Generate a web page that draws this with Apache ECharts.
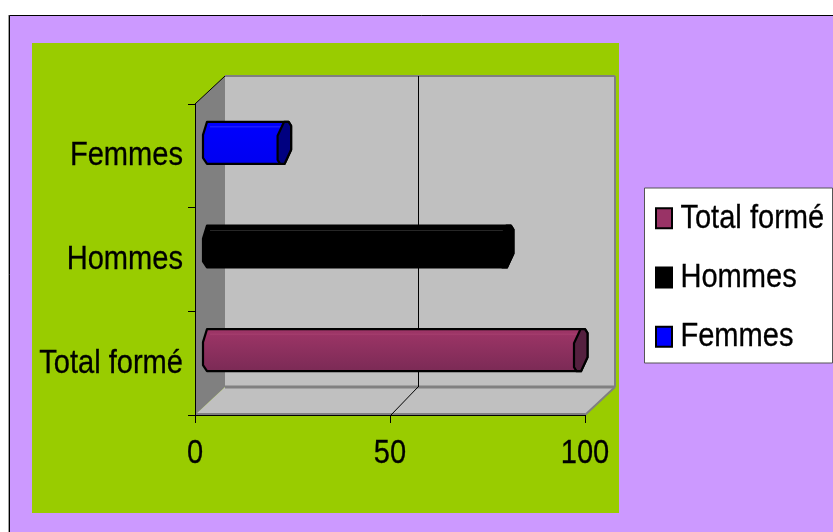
<!DOCTYPE html>
<html>
<head>
<meta charset="utf-8">
<style>html,body{margin:0;padding:0;background:#fff}#chart{width:833px;height:532px}</style>
<script src="https://cdn.jsdelivr.net/npm/echarts@6/dist/echarts.min.js"></script>
</head>
<body>
<div id="chart"></div>
<script>
// Training headcount by group, drawn as an oblique 3D bar chart.
const categories = ['Total formé', 'Hommes', 'Femmes'];
const totalForme = [95];
const hommes = [76];
const femmes = [19];
const xTicks = { min: 0, max: 100, interval: 50 };

const FONT = '"Liberation Sans", Arial, sans-serif';
const TEXT_WIDTH_RATIO = 0.855;            // horizontal squeeze applied to every label
const LABEL_TOP_PADDING = [2, 4, 8];       // per-category downward nudge of the y labels
const DEPTH_X = 30, DEPTH_Y = 28;          // oblique offset of the back wall
const LINE = '#808080';

function line(x1, y1, x2, y2, stroke, lineWidth) {
  return { type: 'line', shape: { x1, y1, x2, y2 }, style: { stroke, lineWidth }, silent: true };
}
function poly(points, fill, stroke, lineWidth) {
  return { type: 'polygon', shape: { points }, style: { fill, stroke, lineWidth, lineJoin: 'round' }, silent: true };
}

// Walls, floor and the mid gridline of the box behind the bars.
function renderBox(params, api) {
  const c = params.coordSys;
  const l = c.x, r = c.x + c.width, t = c.y, b = c.y + c.height;
  const bl = l + DEPTH_X, br = r + DEPTH_X, bt = t - DEPTH_Y, bb = b - DEPTH_Y;
  const mid = api.coord([xTicks.interval, 0])[0];
  return { type: 'group', children: [
    poly([[bl, bt], [br, bt], [br, bb], [bl, bb]], '#c0c0c0'),
    poly([[l, t], [bl, bt], [bl, bb], [l, b]], '#808080'),
    poly([[l, b], [r, b], [br, bb], [bl, bb]], '#c0c0c0'),
    line(bl, bt, br, bt, LINE, 2),
    line(br, bt, br, bb, LINE, 2),
    line(bl, bb, br, bb, LINE, 3),
    line(r, b, br, bb, LINE, 2),
    line(l, b - 1, r, b - 1, LINE, 2),
    line(l, t, bl, bt, '#000', 1),
    line(mid + 28.5, bt, mid + 28.5, bb, '#000', 1),
    line(mid + 1, b, mid + 28, bb, '#000', 1)
  ] };
}

// One bar: a long faceted prism whose end cap sits at the value.
function barRenderer(top, bottom, cap, glint) {
  return function (params, api) {
    const cat = api.value(1);
    const y = api.coord([0, cat])[1] - DEPTH_Y / 2 + 1;
    const x0 = api.coord([0, cat])[0] + DEPTH_X / 2;
    const x1 = api.coord([api.value(0), cat])[0] + DEPTH_X / 2;
    const R = 21;
    const body = [
      [x0 - 3, y - R], [x1 + 4.5, y - R], [x1 + 7, y - 17], [x1 + 7, y + 7], [x1 + 0.5, y + R],
      [x0 - 3, y + R], [x0 - 7, y + 15], [x0 - 7, y - 8]
    ];
    const capPts = [
      [x1, y - R], [x1 + 4.5, y - R], [x1 + 7, y - 17], [x1 + 7, y + 7],
      [x1 + 0.5, y + R], [x1 - 4, y + R], [x1 - 6.5, y + 17], [x1 - 6.5, y - 7]
    ];
    const fill = new echarts.graphic.LinearGradient(0, 0, 0, 1, [
      { offset: 0, color: top }, { offset: 1, color: bottom }
    ]);
    return { type: 'group', children: [
      poly(body, fill, '#000', 2.2),
      line(x0, y - 16, x1 - 2, y - 16, glint, 1),
      poly(capPts, cap, '#000', 2.2)
    ] };
  };
}

function barSeries(name, values, catIndex, color, top, bottom, cap, glint) {
  return {
    type: 'custom', name, z: 4, silent: true,
    itemStyle: { color },
    encode: { x: 0, y: 1 },
    data: values.map(v => [v, catIndex]),
    renderItem: barRenderer(top, bottom, cap, glint)
  };
}

const labelWeight = { textBorderColor: '#000', textBorderWidth: 0.3 };

const chart = echarts.init(document.getElementById('chart'), null, { renderer: 'canvas' });
chart.setOption({
  animation: false,
  backgroundColor: '#ffffff',
  grid: { left: 195, right: 248, top: 104, bottom: 117, containLabel: false },
  xAxis: {
    type: 'value', min: xTicks.min, max: xTicks.max, interval: xTicks.interval, z: 2,
    axisLine: { show: true, onZero: false, lineStyle: { color: '#000', width: 1 } },
    axisTick: { show: true, length: 8, lineStyle: { color: '#000' } },
    axisLabel: { color: '#000', fontFamily: FONT, fontSize: 34, margin: 22, ...labelWeight },
    splitLine: { show: false }
  },
  yAxis: {
    type: 'category', z: 2,
    data: categories.map((value, i) => ({ value, textStyle: { padding: [LABEL_TOP_PADDING[i], 0, 0, 0] } })),
    axisLine: { show: true, lineStyle: { color: '#000', width: 1 } },
    axisTick: { show: true, length: 7, lineStyle: { color: '#000' } },
    axisLabel: { color: '#000', fontFamily: FONT, fontSize: 34, margin: 12, ...labelWeight },
    splitLine: { show: false }
  },
  legend: {
    data: categories, orient: 'vertical', left: 655, top: 201, padding: 0,
    icon: 'rect', itemWidth: 16, itemHeight: 20, itemGap: 25, selectedMode: false, z: 6,
    itemStyle: { borderColor: '#000', borderWidth: 2 },
    textStyle: { color: '#000', fontFamily: FONT, fontSize: 34, padding: [0, 0, 0, 4], ...labelWeight }
  },
  graphic: { elements: [
    { type: 'rect', z: -20, silent: true, shape: { x: 8, y: 15, width: 825, height: 517 }, style: { fill: '#a0a0a0' } },
    { type: 'rect', z: -19, silent: true, shape: { x: 9.5, y: 15.5, width: 830, height: 530 }, style: { fill: '#cc99ff', stroke: '#000', lineWidth: 1 } },
    { type: 'rect', z: -18, silent: true, shape: { x: 32, y: 43, width: 587, height: 470 }, style: { fill: '#99cc00' } },
    { type: 'rect', z: 5, silent: true, shape: { x: 644.5, y: 188, width: 188, height: 175 }, style: { fill: '#fff', stroke: '#555', lineWidth: 1 } }
  ] },
  series: [
    { type: 'custom', name: 'box', z: 0, silent: true, encode: { x: 0, y: 1 }, data: [[0, 0]], renderItem: renderBox },
    barSeries(categories[0], totalForme, 0, '#993366', '#a03668', '#7a2a55', '#55203f', '#a84070'),
    barSeries(categories[1], hommes, 1, '#000000', '#000000', '#000000', '#000000', '#262626'),
    barSeries(categories[2], femmes, 2, '#0000ff', '#0000ff', '#0000f0', '#000080', '#2a2aff')
  ]
});

// Narrow all label text around its own anchor so it sets like a condensed face.
const zr = chart.getZr();
zr.storage.getRoots().forEach(root => {
  if (!root.traverse) return;
  root.traverse(el => {
    if (el instanceof echarts.graphic.Text && el.style && el.style.text) {
      el.originX = el.style.x || 0;
      el.scaleX = TEXT_WIDTH_RATIO;
      el.markRedraw();
    }
  });
});
zr.flush();
</script>
</body>
</html>
